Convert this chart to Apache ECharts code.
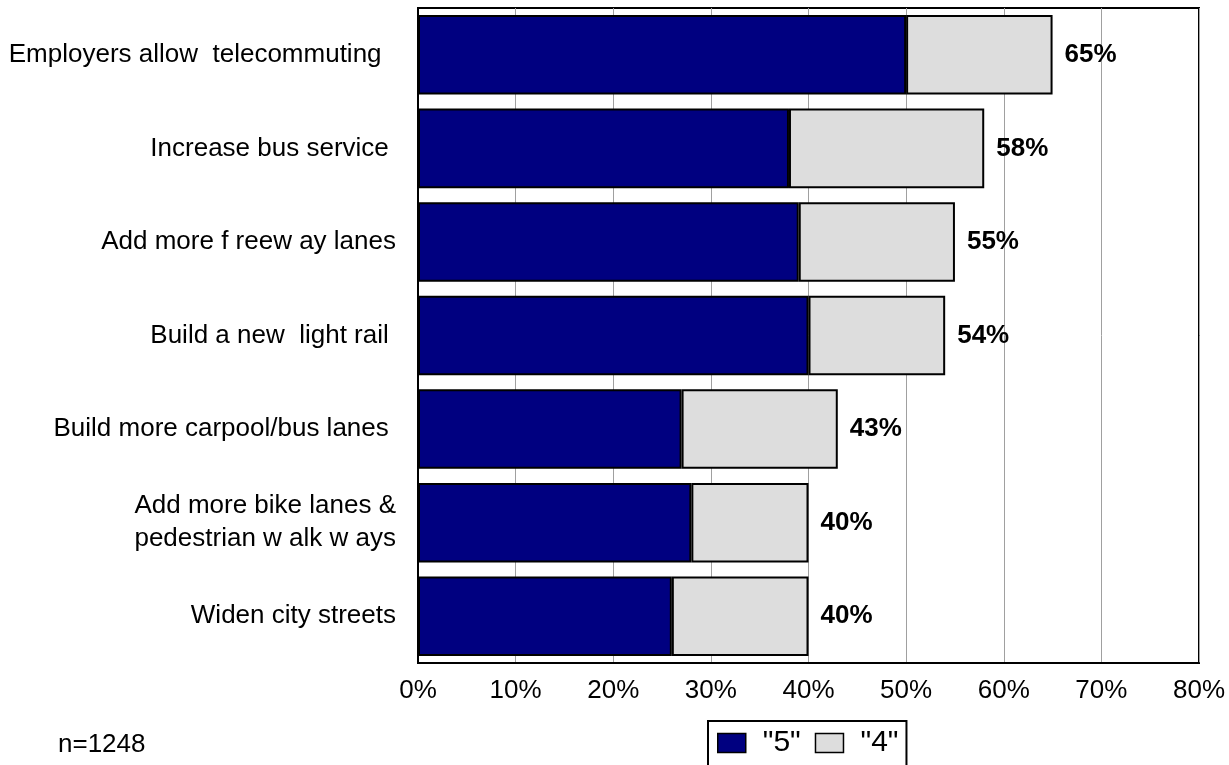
<!DOCTYPE html>
<html>
<head>
<meta charset="utf-8">
<script src="https://cdn.jsdelivr.net/npm/echarts@6/dist/echarts.min.js"></script>
<style>
  html, body { margin: 0; padding: 0; background: #fff; }
  #chart { width: 1229px; height: 765px; }
</style>
</head>
<body>
<div id="chart"></div>
<script>
// survey: support for transportation options (share rating "5" and "4")
var categories = [
    'Employers allow  telecommuting  ',
    'Increase bus service ',
    'Add more f reew ay lanes',
    'Build a new  light rail ',
    'Build more carpool/bus lanes ',
    'Add more bike lanes &\npedestrian w alk w ays',
    'Widen city streets'
];
var rating5 = [50, 38, 39, 40, 27, 28, 26];
var rating4 = [15, 20, 16, 14, 16, 12, 14];
var xTicks = [0, 10, 20, 30, 40, 50, 60, 70, 80];
var sampleNote = 'n=1248';

var totals = rating5.map(function (v, i) { return v + rating4[i]; });
var font = "'Liberation Sans', Arial, sans-serif";

var myChart = echarts.init(document.getElementById('chart'));
window.onresize = myChart.resize;

option = {
    animation: false,
    textStyle: { fontFamily: font },
    grid: {
        left: 418,
        right: 30,
        top: 8,
        bottom: 102,
        show: true,
        borderColor: '#000',
        borderWidth: 2
    },
    xAxis: {
        type: 'value',
        min: xTicks[0],
        max: xTicks[xTicks.length - 1],
        interval: 10,
        axisLine: { show: true, lineStyle: { color: '#000', width: 2 } },
        axisTick: { show: false },
        axisLabel: {
            formatter: '{value}%',
            fontSize: 26,
            color: '#000',
            margin: 15,
            fontFamily: font
        },
        splitLine: { show: true, lineStyle: { color: '#a0a0a0', width: 1 } }
    },
    yAxis: {
        type: 'category',
        inverse: true,
        data: categories,
        axisLine: { show: true, lineStyle: { color: '#000', width: 2 } },
        axisTick: { show: false },
        axisLabel: {
            fontSize: 26,
            color: '#000',
            margin: 22,
            lineHeight: 33,
            align: 'right',
            fontFamily: font
        }
    },
    legend: {
        left: 708,
        top: 721,
        orient: 'horizontal',
        icon: 'rect',
        itemWidth: 28,
        itemHeight: 19,
        itemGap: 14,
        borderColor: '#000',
        borderWidth: 2,
        padding: [7, 8, 30, 9],
        itemStyle: { borderColor: '#000', borderWidth: 1.5 },
        textStyle: {
            fontSize: 30,
            color: '#000',
            fontFamily: font,
            padding: [0, 0, 0, 12]
        },
        data: ['"5"', '"4"']
    },
    graphic: [{
        type: 'text',
        left: 58,
        top: 732,
        style: { text: sampleNote, fontSize: 26, fill: '#000', fontFamily: font }
    }],
    series: [
        {
            name: '"5"',
            type: 'bar',
            stack: 'total',
            barCategoryGap: '15%',
            data: rating5,
            itemStyle: { color: '#000080', borderColor: '#000', borderWidth: 2 }
        },
        {
            name: '"4"',
            type: 'bar',
            stack: 'total',
            barCategoryGap: '15%',
            data: rating4,
            itemStyle: { color: '#dddddd', borderColor: '#000', borderWidth: 2 },
            label: {
                show: true,
                position: 'right',
                distance: 12,
                fontSize: 26,
                fontWeight: 'bold',
                color: '#000',
                fontFamily: font,
                formatter: function (params) {
                    return totals[params.dataIndex] + '%';
                }
            }
        }
    ]
};
myChart.setOption(option);
</script>
</body>
</html>
